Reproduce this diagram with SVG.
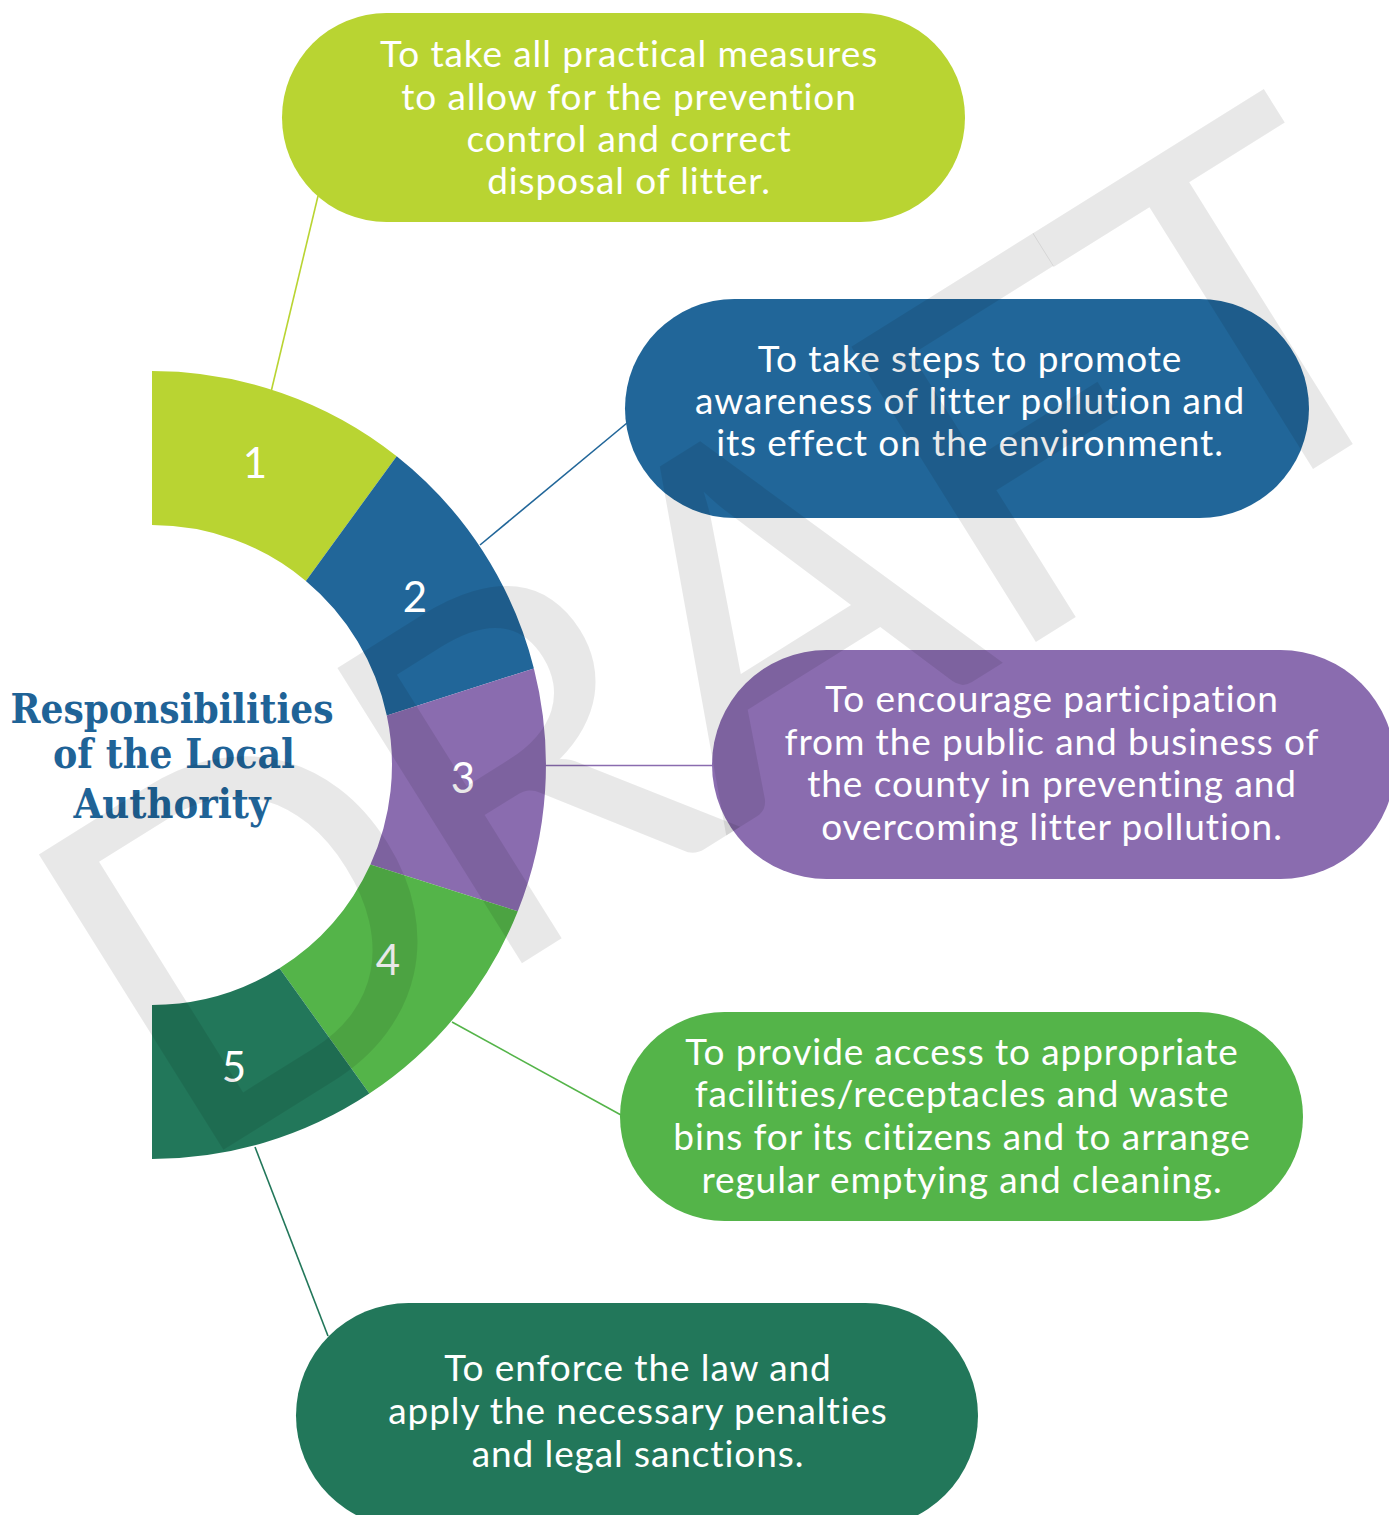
<svg xmlns="http://www.w3.org/2000/svg" width="1389" height="1515" viewBox="0 0 1389 1515">
<style>
.body{font-family:Lato,"Open Sans",sans-serif;font-size:37px;fill:#fff;text-anchor:middle;letter-spacing:0.9px}
.num{font-family:Lato,sans-serif;font-size:42px;fill:#fff;text-anchor:middle;font-weight:400}
.title{font-family:"DejaVu Serif",serif;font-weight:bold;font-size:41px;fill:#1f6397;text-anchor:middle}
.wm{font-family:Lato,sans-serif;font-size:486px;fill:#000;fill-opacity:0.09}
.conn{stroke-width:1.6;fill:none}
.c1{fill:#b9d432}.c2{fill:#216699}.c3{fill:#8a6caf}.c4{fill:#54b449}.c5{fill:#22775a}
</style>
<rect width="1389" height="1515" fill="#fff"/>
<g id="connectors">
<line class="conn" x1="271" y1="392" x2="318" y2="196" stroke="#b9d432"/>
<line class="conn" x1="480" y1="545" x2="627" y2="423" stroke="#216699"/>
<line class="conn" x1="545" y1="765.5" x2="713" y2="765.5" stroke="#8a6caf"/>
<line class="conn" x1="452" y1="1022" x2="621" y2="1115" stroke="#54b449"/>
<line class="conn" x1="255" y1="1147" x2="328" y2="1336" stroke="#22775a"/>
</g>
<g id="seg-1">
<path class="c1" d="M152,371 A394,394 0 0 1 396.7,456.2 L305.9,580.9 A240,240 0 0 0 152,525 Z"/>
<text class="num" x="255" y="478">1</text>
</g>
<g id="seg-2">
<path class="c2" d="M396.7,456.2 A394,394 0 0 1 533.9,668.4 L386.8,715.5 A240,240 0 0 0 305.9,580.9 Z"/>
<text class="num" x="415" y="612">2</text>
</g>
<g id="seg-3">
<path class="c3" d="M533.9,668.4 A394,394 0 0 1 517.8,911.3 L370.4,864.5 A240,240 0 0 0 386.8,715.5 Z"/>
<text class="num" x="463" y="793">3</text>
</g>
<g id="seg-4">
<path class="c4" d="M517.8,911.3 A394,394 0 0 1 369.4,1093.6 L279.5,968.3 A240,240 0 0 0 370.4,864.5 Z"/>
<text class="num" x="388" y="975">4</text>
</g>
<g id="seg-5">
<path class="c5" d="M369.4,1093.6 A394,394 0 0 1 152,1159 L152,1005 A240,240 0 0 0 279.5,968.3 Z"/>
<text class="num" x="234" y="1082">5</text>
</g>
<g id="title">
<text class="title" x="172" y="723" textLength="323" lengthAdjust="spacingAndGlyphs">Responsibilities</text>
<text class="title" x="174" y="768" textLength="242" lengthAdjust="spacingAndGlyphs">of the Local</text>
<text class="title" x="172" y="818" textLength="197" lengthAdjust="spacingAndGlyphs">Authority</text>
</g>
<g id="box-1">
<rect class="c1" x="282" y="13" width="683" height="209" rx="104.5"/>
<text class="body" x="629" y="67">To take all practical measures</text>
<text class="body" x="629" y="109.5">to allow for the prevention</text>
<text class="body" x="629" y="152">control and correct</text>
<text class="body" x="629" y="194">disposal of litter.</text>
</g>
<g id="box-2">
<rect class="c2" x="625" y="299" width="684" height="219" rx="109.5"/>
<text class="body" x="970" y="372">To take steps to promote</text>
<text class="body" x="970" y="414">awareness of litter pollution and</text>
<text class="body" x="970" y="456">its effect on the environment.</text>
</g>
<g id="box-3">
<rect class="c3" x="712" y="650" width="683" height="229" rx="114.5"/>
<text class="body" x="1052" y="712">To encourage participation</text>
<text class="body" x="1052" y="755">from the public and business of</text>
<text class="body" x="1052" y="797">the county in preventing and</text>
<text class="body" x="1052" y="840">overcoming litter pollution.</text>
</g>
<g id="box-4">
<rect class="c4" x="620" y="1012" width="683" height="209" rx="104.5"/>
<text class="body" x="962" y="1065">To provide access to appropriate</text>
<text class="body" x="962" y="1107">facilities/receptacles and waste</text>
<text class="body" x="962" y="1150">bins for its citizens and to arrange</text>
<text class="body" x="962" y="1193">regular emptying and cleaning.</text>
</g>
<g id="box-5">
<rect class="c5" x="296" y="1303" width="682" height="225" rx="112.5"/>
<text class="body" x="638" y="1381">To enforce the law and</text>
<text class="body" x="638" y="1424">apply the necessary penalties</text>
<text class="body" x="638" y="1467">and legal sanctions.</text>
</g>
<g id="watermark">
<text class="wm" transform="translate(223,1150) rotate(-32)" x="-44 308 592 914 1165" y="0">DRAFT</text>
</g>
</svg>
